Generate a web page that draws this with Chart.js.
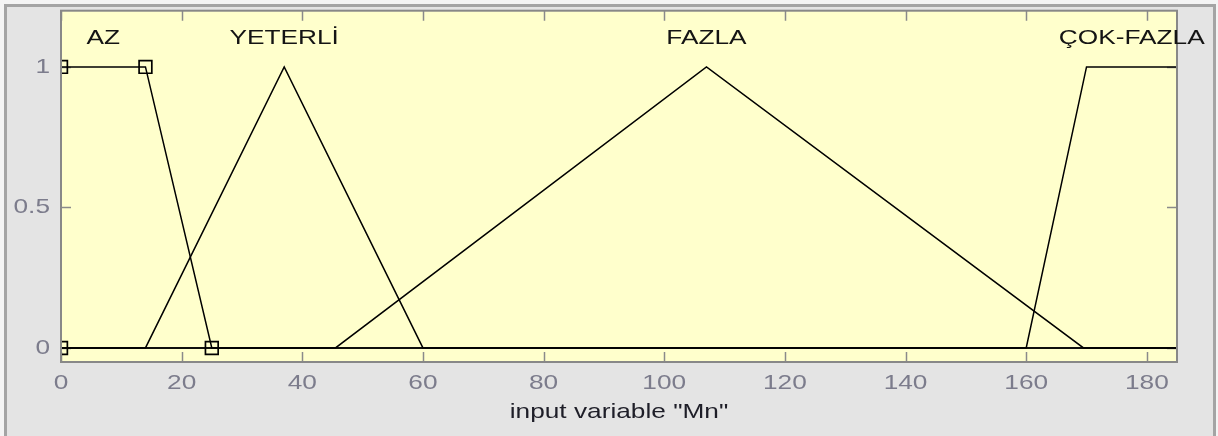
<!DOCTYPE html>
<html>
<head>
<meta charset="utf-8">
<script src="https://cdn.jsdelivr.net/npm/chart.js@4/dist/chart.umd.min.js"></script>
<style>
  body { margin: 0; background: #f4f4f4; }
  #wrap { width: 1218px; height: 436px; }
</style>
</head>
<body>
<div id="wrap"><canvas id="mf" width="1218" height="436"></canvas></div>
<script>
// tick values and labels
const xTicks = [0, 20, 40, 60, 80, 100, 120, 140, 160, 180];
const yTicks = [0, 0.5, 1];
const yTickLabels = ['0', '0.5', '1'];
const xTitle = 'input variable "Mn"';

// membership functions (x breakpoints, membership values)
const mfNames = ['AZ', 'YETERLİ', 'FAZLA', 'ÇOK-FAZLA'];
const azX = [0, 0, 14, 25, 185];
const azY = [0, 1, 1, 0, 0];
const yeterliX = [0, 14, 37, 60, 185];
const yeterliY = [0, 0, 1, 0, 0];
const fazlaX = [0, 45.5, 107, 169.5, 185];
const fazlaY = [0, 0, 1, 0, 0];
const cokFazlaX = [0, 160, 170, 185];
const cokFazlaY = [0, 0, 1, 1];

// squares marking the selected function's parameters (AZ)
const azMarkers = [true, true, true, true, false];

const mfX = [azX, yeterliX, fazlaX, cokFazlaX];
const mfY = [azY, yeterliY, fazlaY, cokFazlaY];

// text in the reference is rendered a bit wide
const SX = 1.25;
const TICK_COLOR = '#7c7c8c';

function wideText(ctx, text, x, y, align) {
    ctx.save();
    ctx.translate(x, y);
    ctx.scale(SX, 1);
    ctx.textAlign = align;
    ctx.textBaseline = 'middle';
    ctx.fillText(text, 0, 0);
    ctx.restore();
}

const toPoints = (xs, ys) => xs.map((x, i) => ({ x: x, y: ys[i] }));

const datasets = mfNames.map((name, i) => ({
    label: name,
    data: toPoints(mfX[i], mfY[i]),
    borderColor: '#000',
    borderWidth: 1.5,
    tension: 0,
    fill: false,
    clip: false,
    pointStyle: 'rect',
    pointRadius: i === 0 ? azMarkers.map(m => m ? 9 : 0) : 0,
    pointBorderWidth: 1.7,
    pointBorderColor: '#000',
    pointBackgroundColor: 'rgba(0,0,0,0)'
}));

const axesPlugin = {
    id: 'matlabAxes',
    beforeDraw(chart) {
        const { ctx, chartArea: a, width, height } = chart;
        ctx.save();
        ctx.fillStyle = '#f4f4f4';
        ctx.fillRect(0, 0, width, height);
        ctx.fillStyle = '#e4e4e4';
        ctx.fillRect(6, 6, 1209, height - 6);
        ctx.strokeStyle = '#a4a4a4';
        ctx.lineWidth = 3;
        ctx.beginPath();
        ctx.moveTo(5.5, height);
        ctx.lineTo(5.5, 5.5);
        ctx.lineTo(1214.5, 5.5);
        ctx.lineTo(1214.5, height);
        ctx.stroke();
        ctx.fillStyle = '#ffffcc';
        ctx.fillRect(a.left, a.top, a.right - a.left, a.bottom - a.top);
        ctx.restore();
    },
    beforeDatasetsDraw(chart) {
        const { ctx, chartArea: a, scales } = chart;
        const xs = scales.x, ys = scales.y;

        // tick marks, pointing inwards on all four sides (under the curves)
        ctx.save();
        ctx.strokeStyle = '#8a8a8a';
        ctx.lineWidth = 1.5;
        ctx.beginPath();
        xTicks.forEach(v => {
            const px = Math.round(xs.getPixelForValue(v)) + 0.5;
            ctx.moveTo(px, a.bottom); ctx.lineTo(px, a.bottom - 10);
            ctx.moveTo(px, a.top); ctx.lineTo(px, a.top + 10);
        });
        yTicks.forEach(v => {
            const py = Math.round(ys.getPixelForValue(v)) + 0.5;
            ctx.moveTo(a.left, py); ctx.lineTo(a.left + 10, py);
            ctx.moveTo(a.right, py); ctx.lineTo(a.right - 10, py);
        });
        ctx.stroke();
        ctx.restore();

        // clip the curves and markers to the axes box
        ctx.save();
        ctx.beginPath();
        ctx.rect(a.left, a.top, a.right - a.left, a.bottom - a.top);
        ctx.clip();
    },
    afterDatasetsDraw(chart) {
        const { ctx, chartArea: a, scales } = chart;
        ctx.restore();
        const xs = scales.x, ys = scales.y;
        ctx.save();

        // axes box
        ctx.lineWidth = 2;
        ctx.strokeStyle = '#888888';
        ctx.strokeRect(a.left, a.top, a.right - a.left, a.bottom - a.top);

        // tick labels
        ctx.font = '21px "Liberation Sans", Arial, sans-serif';
        ctx.fillStyle = TICK_COLOR;
        xTicks.forEach(v => wideText(ctx, String(v), xs.getPixelForValue(v), a.bottom + 21, 'center'));
        yTicks.forEach((v, i) => wideText(ctx, yTickLabels[i], a.left - 11, ys.getPixelForValue(v), 'right'));

        // axis title
        ctx.fillStyle = '#1e1e28';
        wideText(ctx, xTitle, (a.left + a.right) / 2, a.bottom + 50, 'center');

        // function names above the plateau / peak of each function
        ctx.fillStyle = '#141414';
        mfNames.forEach((name, i) => {
            const top = mfX[i].filter((x, j) => mfY[i][j] === 1);
            const cx = (Math.min(...top) + Math.max(...top)) / 2;
            wideText(ctx, name, xs.getPixelForValue(cx), ys.getPixelForValue(1.1) - 1, 'center');
        });
        ctx.restore();
    }
};

new Chart(document.getElementById('mf'), {
    type: 'line',
    data: { datasets: datasets },
    options: {
        responsive: false,
        animation: false,
        events: [],
        layout: { padding: { left: 61, right: 41, top: 10, bottom: 74 } },
        scales: {
            x: { type: 'linear', min: 0, max: 185, display: false },
            y: { type: 'linear', min: -0.05, max: 1.2, display: false }
        },
        plugins: {
            legend: { display: false },
            tooltip: { enabled: false }
        }
    },
    plugins: [axesPlugin]
});
</script>
</body>
</html>
